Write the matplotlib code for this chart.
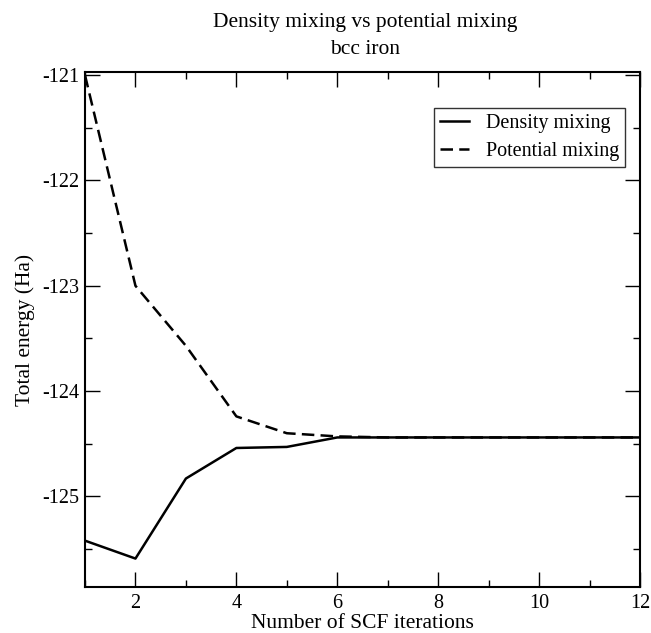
import matplotlib
matplotlib.use("Agg")
import matplotlib.pyplot as plt
from matplotlib.ticker import MultipleLocator, FuncFormatter

plt.rcParams['font.family'] = ['Liberation Serif', 'DejaVu Serif']

iterations = [1, 2, 3, 4, 5, 6, 7, 8, 9, 10, 11, 12]
density_mixing = [-125.42, -125.59, -124.83, -124.54, -124.53, -124.44, -124.44, -124.44, -124.44, -124.44, -124.44, -124.44]
potential_mixing = [-121.0, -123.0, -123.57, -124.24, -124.40, -124.43, -124.44, -124.44, -124.44, -124.44, -124.44, -124.44]

fig = plt.figure(figsize=(6.51, 6.33), dpi=100)
ax = fig.add_axes([85/651, 1-587/633, (640-85)/651, (587-72)/633])

ax.plot(iterations, density_mixing, color='black', lw=1.8, label='Density mixing')
ax.plot(iterations, potential_mixing, color='black', lw=1.8, ls=(0, (5, 2.5)), label='Potential mixing')

ax.set_xlim(1, 12)
ax.set_ylim(-125.86, -120.97)
ax.xaxis.set_major_locator(MultipleLocator(2))
ax.xaxis.set_minor_locator(MultipleLocator(1))
ax.yaxis.set_major_locator(MultipleLocator(1))
ax.yaxis.set_minor_locator(MultipleLocator(0.5))
ax.tick_params(which='both', direction='in', top=True, right=True, width=1.0, labelsize=14.5)
ax.tick_params(which='major', length=10.5)
ax.tick_params(which='minor', length=5.2)
ax.tick_params(axis='x', pad=5)
ax.tick_params(axis='y', pad=4)
ax.xaxis.set_major_formatter(FuncFormatter(lambda v, p: f"{int(round(v))}"))
ax.yaxis.set_major_formatter(FuncFormatter(lambda v, p: f"-{abs(int(round(v)))}"))
for s in ax.spines.values():
    s.set_linewidth(1.5)

ax.set_xlabel('Number of SCF iterations', fontsize=15.5, labelpad=1)
ax.set_ylabel('Total energy (Ha)', fontsize=15.5)
ax.yaxis.set_label_coords((35-85)/555, 0.5)
fig.text(365/651, 1-22/633, 'Density mixing vs potential mixing', ha='center', va='center', fontsize=15.5)
fig.text(365/651, 1-50/633, 'bcc iron', ha='center', va='center', fontsize=15.5)

leg = ax.legend(loc='upper right', bbox_to_anchor=(625/651, 1-108/633), bbox_transform=fig.transFigure,
                fontsize=14.5, frameon=True, fancybox=False, edgecolor='black', handlelength=1.4,
                borderpad=0.3, labelspacing=0.45, handletextpad=0.85, borderaxespad=0)
leg.get_frame().set_linewidth(1.0)

fig.savefig('out.png', dpi=100)
